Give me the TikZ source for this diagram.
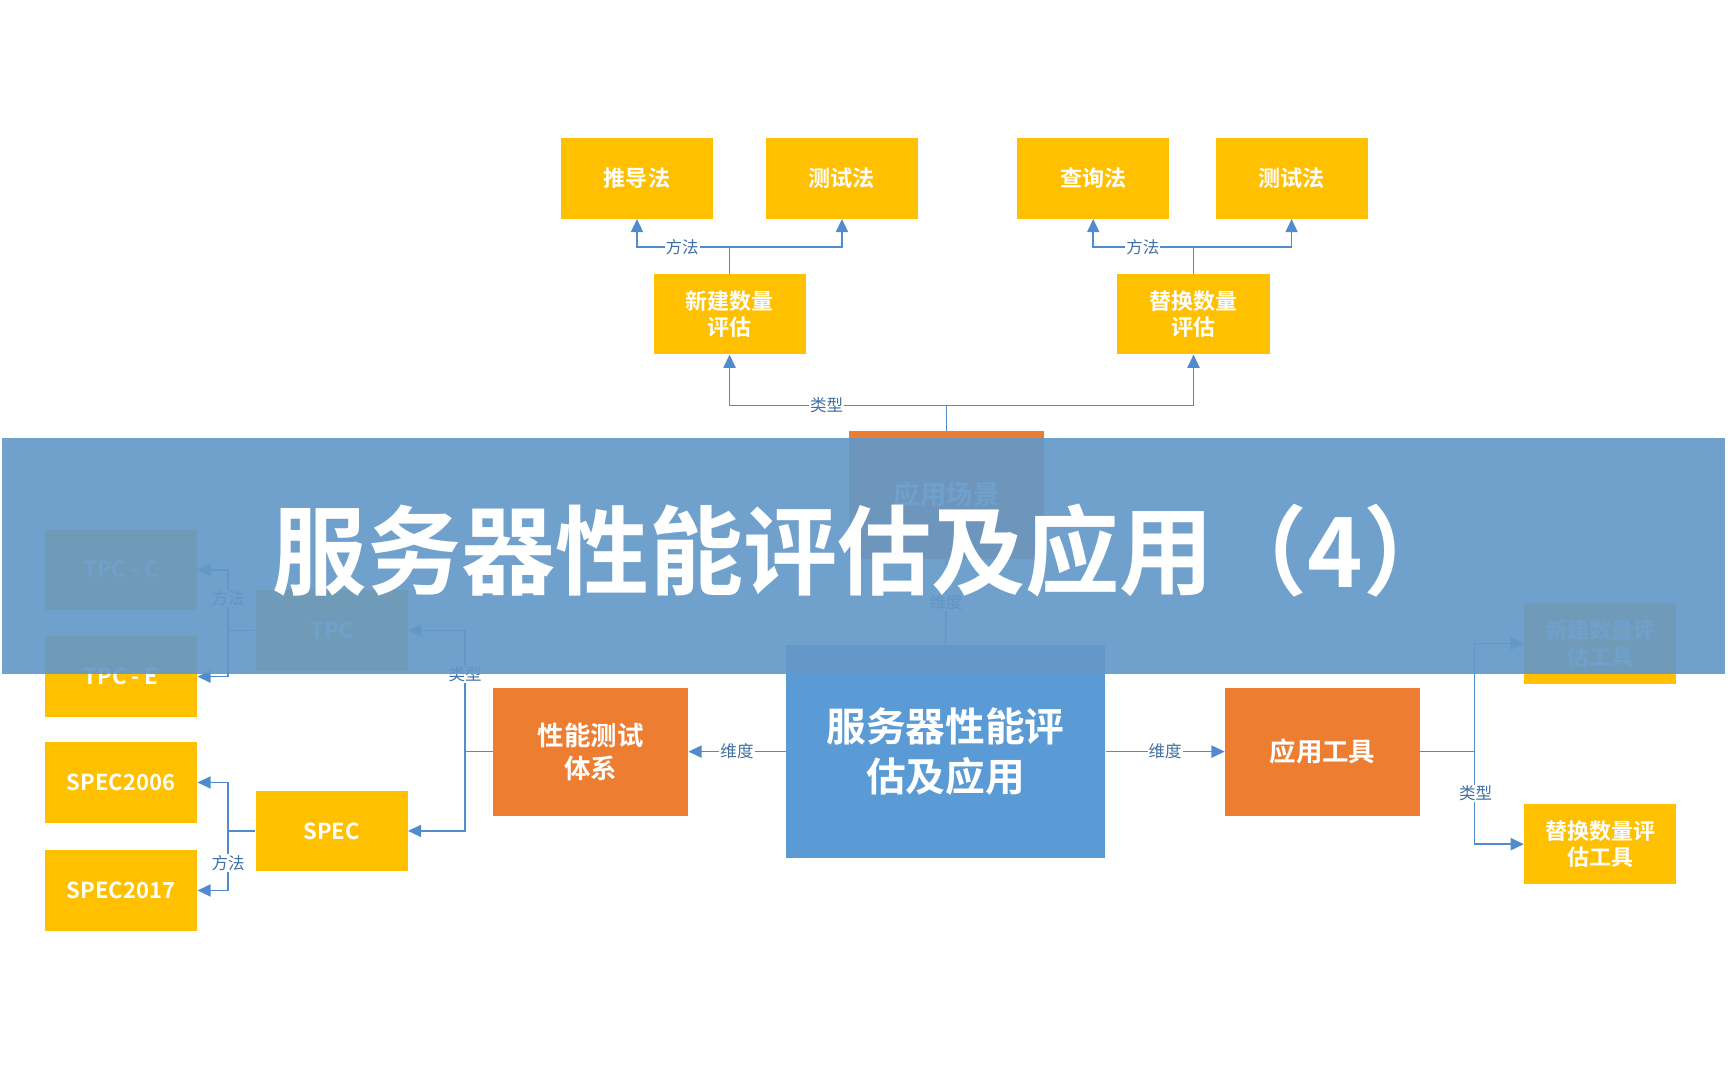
\documentclass[tikz,border=0pt]{standalone}
\usepackage{fontspec}
\setmainfont{Noto Sans CJK SC}[BoldFont={Noto Sans CJK SC Bold}]
\usetikzlibrary{arrows.meta, positioning}
\definecolor{boxyellow}{RGB}{255,192,0}
\definecolor{boxorange}{RGB}{237,125,49}
\definecolor{boxblue}{RGB}{91,155,213}
\definecolor{linkblue}{RGB}{80,140,205}
\definecolor{bandblue}{RGB}{100,152,200}
\tikzset{yellowbox/.style={rectangle, fill=boxyellow, text=white, font=\bfseries\fontsize{20}{24}\selectfont, minimum width=138pt, minimum height=73pt, inner sep=2pt, align=center},
orangebox/.style={rectangle, fill=boxorange, text=white, font=\bfseries\fontsize{24}{30}\selectfont, minimum width=177pt, minimum height=116pt, align=center}}

\begin{document}
\begin{tikzpicture}[
        x=1pt, y=-1pt,
        link/.style={draw=linkblue, line width=1.5pt},
        linkarrow/.style={link, -{Triangle[length=12pt, width=11pt]}},
        linklabel/.style={fill=white, text=linkblue!80!black, font=\fontsize{15}{18}\selectfont, inner sep=1pt}
    ]
        \useasboundingbox (0, 0) rectangle (1568, 980);
        % Top level
        \node[yellowbox] (derive) at (578, 162) {推导法};
        \node[yellowbox] (testA) at (764, 162) {测试法};
        \node[yellowbox] (query) at (992, 162) {查询法};
        \node[yellowbox] (testB) at (1172, 162) {测试法};
        \node[yellowbox] (newcount) at (662, 285) {新建数量\\评估};
        \node[yellowbox] (replcount) at (1083, 285) {替换数量\\评估};
        \node[orangebox] (scene) at (859, 449) {应用场景};
        % Middle
        \node[rectangle, fill=boxblue, text=white, font=\bfseries\fontsize{36}{46}\selectfont, minimum width=290pt, minimum height=193pt, align=center] (core) at (858, 682) {服务器性能评\\估及应用};
        \node[orangebox] (system) at (536, 682) {性能测试\\体系};
        \node[orangebox] (tools) at (1200, 682) {应用工具};
        % Left side
        \node[yellowbox] (tpc) at (301, 572) {TPC};
        \node[yellowbox] (spec) at (301, 754) {SPEC};
        \node[yellowbox] (tpcc) at (110, 517) {TPC - C};
        \node[yellowbox] (tpce) at (110, 614) {TPC - E};
        \node[yellowbox] (spec06) at (110, 710) {SPEC2006};
        \node[yellowbox] (spec17) at (110, 808) {SPEC2017};
        % Right side
        \node[yellowbox] (newtool) at (1452, 584) {新建数量评\\估工具};
        \node[yellowbox] (repltool) at (1452, 766) {替换数量评\\估工具};
        % Junctions
        \coordinate (jnew) at (662, 224);
        \coordinate (jrepl) at (1083, 224);
        \coordinate (jscene) at (859, 368);
        \coordinate (jsys) at (422, 682);
        \coordinate (jtpc) at (207, 572);
        \coordinate (jspec) at (207, 754);
        \coordinate (jtool) at (1338, 682);
        % Connectors
        \draw[link] (newcount.north) -- (jnew);
        \draw[linkarrow] (jnew) -| (derive.south);
        \draw[linkarrow] (jnew) -| (testA.south);
        \node[linklabel] at (619, 224) {方法};
        \draw[link] (replcount.north) -- (jrepl);
        \draw[linkarrow] (jrepl) -| (query.south);
        \draw[linkarrow] (jrepl) -| (testB.south);
        \node[linklabel] at (1037, 224) {方法};
        \draw[link] (scene.north) -- (jscene);
        \draw[linkarrow] (jscene) -| (newcount.south);
        \draw[linkarrow] (jscene) -| (replcount.south);
        \node[linklabel] at (750, 368) {类型};
        \draw[link] (core.north) -- (scene.south) node[linklabel, midway] {维度};
        \draw[linkarrow] (core.west) -- (system.east) node[linklabel, midway] {维度};
        \draw[linkarrow] (core.east) -- (tools.west) node[linklabel, midway] {维度};
        \draw[link] (system.west) -- (jsys);
        \draw[linkarrow] (jsys) |- (tpc.east);
        \draw[linkarrow] (jsys) |- (spec.east);
        \node[linklabel] at (422, 612) {类型};
        \draw[link] (tpc.west) -- (jtpc);
        \draw[linkarrow] (jtpc) |- (tpcc.east);
        \draw[linkarrow] (jtpc) |- (tpce.east);
        \node[linklabel] at (207, 543) {方法};
        \draw[link] (spec.west) -- (jspec);
        \draw[linkarrow] (jspec) |- (spec06.east);
        \draw[linkarrow] (jspec) |- (spec17.east);
        \node[linklabel] at (207, 783) {方法};
        \draw[link] (tools.east) -- (jtool);
        \draw[linkarrow] (jtool) |- (newtool.west);
        \draw[linkarrow] (jtool) |- (repltool.west);
        \node[linklabel] at (1339, 720) {类型};
        % Title band
        \fill[bandblue, opacity=0.92] (2, 397) rectangle (1565, 612);
        \node[text=white, font=\bfseries\fontsize{88}{100}\selectfont, inner sep=0pt] (title) at (785, 500) {\scalebox{0.97}[1]{服务器性能评估及应用（4）}};
    \end{tikzpicture}
\end{document}
